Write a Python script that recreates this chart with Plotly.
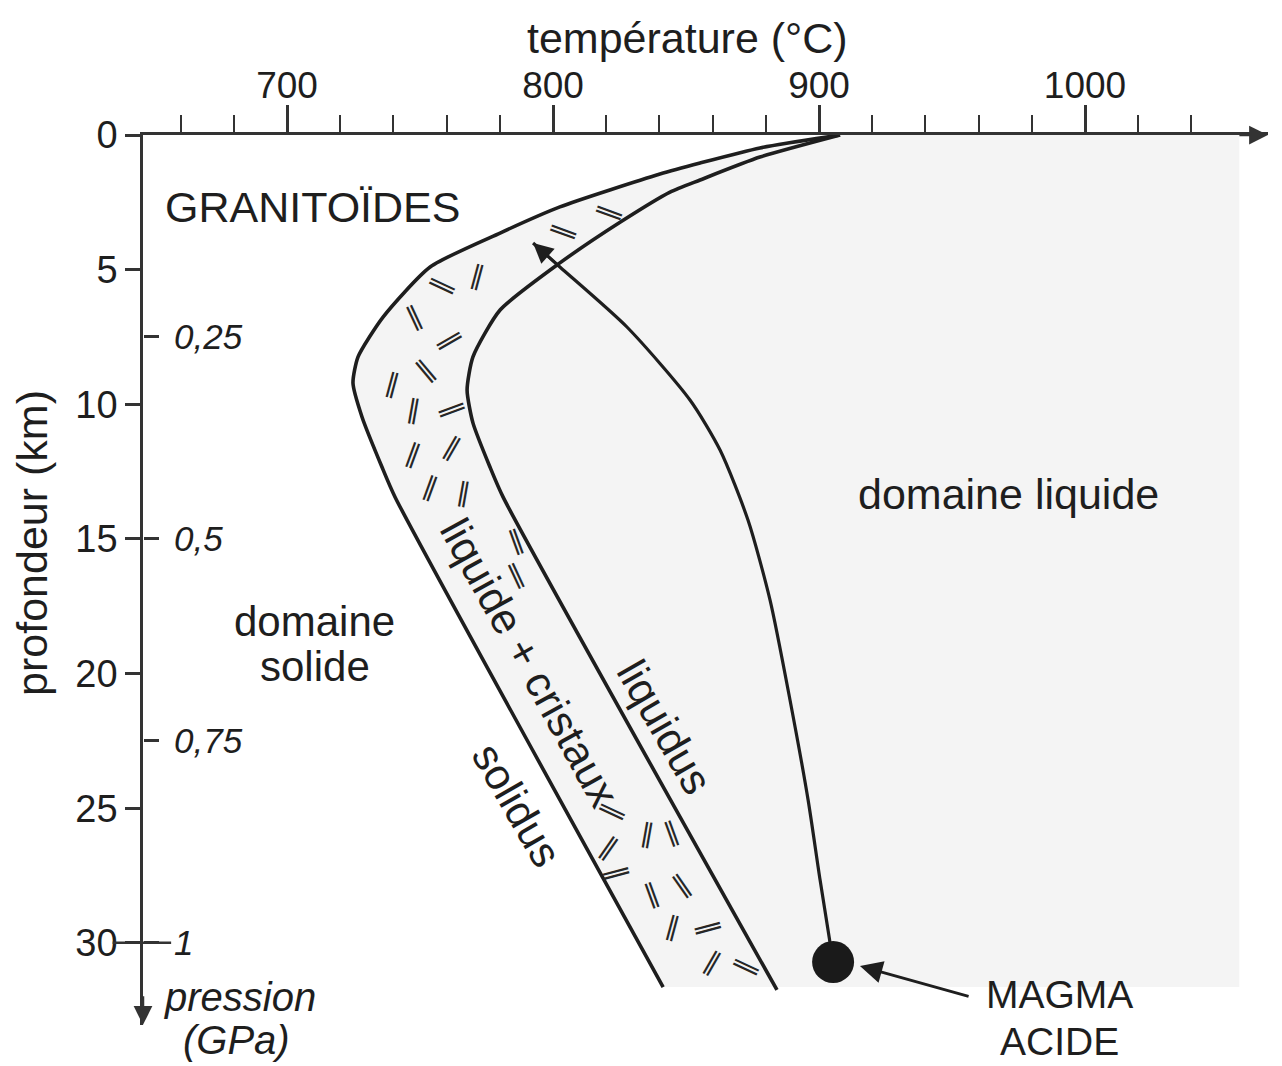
import plotly.graph_objects as go

# ---------------- data ----------------
temp_major_ticks = [700, 800, 900, 1000]
temp_minor_ticks = [660, 680, 720, 740, 760, 780, 820, 840, 860, 880, 920, 940, 960, 980, 1020, 1040]
depth_ticks = [0, 5, 10, 15, 20, 25, 30]
pressure_ticks = [0.25, 0.5, 0.75, 1]
pressure_labels = ["0,25", "0,5", "0,75", "1"]

solidus_T = [907.9, 877.8, 855.3, 840.2, 802.6, 780.1, 753.8, 736.1, 726.7, 724.8, 728.2, 735.7, 740.6, 841.4]
solidus_depth = [0.0, 0.48, 1.04, 1.45, 2.67, 3.64, 4.90, 6.76, 8.24, 9.21, 10.47, 12.33, 13.44, 31.64]

liquidus_T = [907.9, 877.8, 855.3, 844.0, 825.2, 802.6, 780.1, 769.9, 767.7, 769.9, 776.3, 781.2, 884.2]
liquidus_depth = [0.0, 0.82, 1.67, 2.12, 3.24, 4.75, 6.50, 8.24, 9.47, 10.69, 12.33, 13.44, 31.75]

magma_path_T = [792.5, 802.6, 827.8, 851.5, 862.8, 873.3, 881.6, 889.1, 895.9, 900.4, 905.3]
magma_path_depth = [4.01, 4.90, 7.13, 9.84, 11.70, 14.30, 17.27, 20.98, 24.69, 27.66, 30.71]
magma_T = 905.3
magma_depth = 30.71

liquid_limit_T = 1058.0

hatch_T = [821.4, 804.5, 771.8, 758.6, 748.1, 761.3, 739.8, 752.6, 747.4, 762.4, 747.4, 762.4,
           753.8, 766.2, 786.5, 786.5, 822.6, 835.7, 844.7, 821.4, 824.1, 837.6, 848.9, 845.1,
           859.0, 859.8, 872.9]
hatch_depth = [2.93, 3.64, 5.20, 5.64, 6.87, 7.61, 9.21, 8.84, 10.21, 10.21, 11.81, 11.59,
               13.07, 13.29, 15.15, 16.41, 25.14, 25.92, 25.99, 26.44, 27.40, 28.30, 27.92, 29.41,
               29.45, 30.71, 30.93]
hatch_angle = [20, 20, -75, 25, 65, -30, -75, 50, -80, -20, -70, -60,
               -70, -80, 70, 65, 25, -80, 70, -55, -15, 70, 55, -75,
               -15, -60, 25]

x_range = [645.86, 1068.8]
y_range = [33.05, 0]

FONT = "Liberation Sans, Arial, Helvetica, sans-serif"
INK = "#1e1e1e"
TXT = 43

fig = go.Figure()

# light grey liquid domain (from solidus to the right)
fig.add_trace(go.Scatter(
    x=solidus_T + [liquid_limit_T, liquid_limit_T],
    y=solidus_depth + [solidus_depth[-1], 0.0],
    fill="toself", fillcolor="#f4f4f4", mode="lines",
    line=dict(width=0, color="rgba(0,0,0,0)"),
    hoverinfo="skip", showlegend=False))

for xs, ys in [(solidus_T, solidus_depth), (liquidus_T, liquidus_depth)]:
    fig.add_trace(go.Scatter(
        x=xs, y=ys, mode="lines",
        line=dict(color=INK, width=3.6, shape="spline", smoothing=0.6),
        hoverinfo="skip", showlegend=False))

fig.add_trace(go.Scatter(
    x=magma_path_T, y=magma_path_depth, mode="lines",
    line=dict(color=INK, width=3.2, shape="spline", smoothing=0.7),
    hoverinfo="skip", showlegend=False))

fig.add_trace(go.Scatter(
    x=[magma_T], y=[magma_depth], mode="markers",
    marker=dict(size=42, color="#1a1a1a"),
    hoverinfo="skip", showlegend=False))

# invisible trace so the pressure axis is drawn
fig.add_trace(go.Scatter(
    x=[magma_T], y=[magma_depth / 30], yaxis="y2", mode="markers",
    marker=dict(size=1, opacity=0), hoverinfo="skip", showlegend=False))

annotations = []

# hatch marks (crystals) in the liquide + cristaux band
for t, d, a in zip(hatch_T, hatch_depth, hatch_angle):
    annotations.append(dict(x=t, y=d, xref="x", yref="y", text="\u2016", showarrow=False,
                            textangle=a + 90,
                            font=dict(family="DejaVu Sans", size=26, color="#262626")))

labels = [
    ("GRANITOÏDES", 709.4, 2.67, 0, TXT),
    ("domaine", 710.5, 18.05, 0, 42),
    ("solide", 710.5, 19.75, 0, 42),
    ("domaine liquide", 971.1, 13.33, 0, TXT),
    ("liquide + cristaux", 791.4, 19.6, 61, TXT),
    ("liquidus", 842.1, 21.98, 60, TXT),
    ("solidus", 786.5, 24.88, 60, TXT),
]
for txt, t, d, a, sz in labels:
    annotations.append(dict(x=t, y=d, xref="x", yref="y", text=txt, showarrow=False,
                            textangle=a, xanchor="center", yanchor="middle",
                            font=dict(family=FONT, size=sz, color=INK)))

# arrow head on magma ascent path
annotations.append(dict(x=magma_path_T[0], y=magma_path_depth[0], xref="x", yref="y",
                        ax=magma_path_T[1], ay=magma_path_depth[1], axref="x", ayref="y",
                        text="", showarrow=True, arrowhead=2, arrowsize=1.6, arrowwidth=2.5,
                        arrowcolor=INK))

# pointer to the magma
annotations.append(dict(x=915.4, y=30.86, xref="x", yref="y",
                        ax=956.8, ay=32.0, axref="x", ayref="y",
                        text="", showarrow=True, arrowhead=2, arrowsize=1.6, arrowwidth=2.8,
                        arrowcolor=INK))

paper_texts = [
    ("MAGMA", 0.815, 0.0348, 0, "normal", 39),
    ("ACIDE", 0.815, -0.0180, 0, "normal", 39),
    ("température (°C)", 0.4844, 1.109, 0, "normal", TXT),
    ("profondeur (km)", -0.0987, 0.5416, -90, "normal", TXT),
    ("pression", 0.0862, 0.0310, 0, "italic", 40),
    ("(GPa)", 0.0835, -0.0170, 0, "italic", 40),
]
for txt, px, py, a, st, sz in paper_texts:
    annotations.append(dict(x=px, y=py, xref="paper", yref="paper",
                            xanchor="center", yanchor="middle", textangle=a,
                            text=txt, showarrow=False,
                            font=dict(family=FONT, size=sz, color=INK, style=st)))

# axis arrows
annotations.append(dict(x=x_range[1] - 0.05, y=0, xref="x", yref="y", ax=-30, ay=0,
                        text="", showarrow=True, arrowhead=2, arrowsize=1.5, arrowwidth=2.5,
                        arrowcolor="#333333"))
annotations.append(dict(x=x_range[0], y=y_range[0] - 0.005, xref="x", yref="y", ax=0, ay=-30,
                        text="", showarrow=True, arrowhead=2, arrowsize=1.5, arrowwidth=2.5,
                        arrowcolor="#333333"))

shapes = [
    # long tick at 30 km / 1 GPa
    dict(type="line", xref="paper", yref="y", x0=-0.027, x1=0.025, y0=30, y1=30,
         line=dict(color="#333333", width=2.5)),
]

# page body has an 8px margin: figure is sized/offset to compensate
fig.update_layout(
    width=1274, height=1058, autosize=False,
    margin=dict(l=135, r=14, t=127, b=41, pad=0),
    paper_bgcolor="white", plot_bgcolor="white",
    font=dict(family=FONT, color=INK),
    annotations=annotations, shapes=shapes,
    xaxis=dict(range=x_range, side="top", showgrid=False, zeroline=False,
               showline=True, linecolor="#333333", linewidth=2.5,
               tickmode="array", tickvals=temp_major_ticks,
               ticktext=[str(v) for v in temp_major_ticks],
               ticks="outside", ticklen=27, tickwidth=2.5, tickcolor="#333333",
               ticklabelstandoff=-8,
               tickfont=dict(family=FONT, size=37, color=INK),
               minor=dict(tickmode="array", tickvals=temp_minor_ticks, ticks="outside",
                          ticklen=17, tickwidth=2, tickcolor="#333333", showgrid=False)),
    yaxis=dict(range=y_range, showgrid=False, zeroline=False,
               showline=True, linecolor="#333333", linewidth=2.5,
               tickmode="array", tickvals=depth_ticks,
               ticks="outside", ticklen=15, tickwidth=2.5, tickcolor="#333333",
               tickfont=dict(family=FONT, size=38, color=INK), ticklabelstandoff=0),
    yaxis2=dict(range=[y_range[0] / 30, 0], overlaying="y", anchor="free", position=0,
                side="right", showgrid=False, zeroline=False, showline=False,
                tickmode="array", tickvals=pressure_ticks, ticktext=pressure_labels,
                ticks="outside", ticklen=15, tickwidth=2.5, tickcolor="#333333",
                ticklabelstandoff=8,
                tickfont=dict(family=FONT, size=35, color=INK, style="italic")),
)

fig.write_html("out.html")
